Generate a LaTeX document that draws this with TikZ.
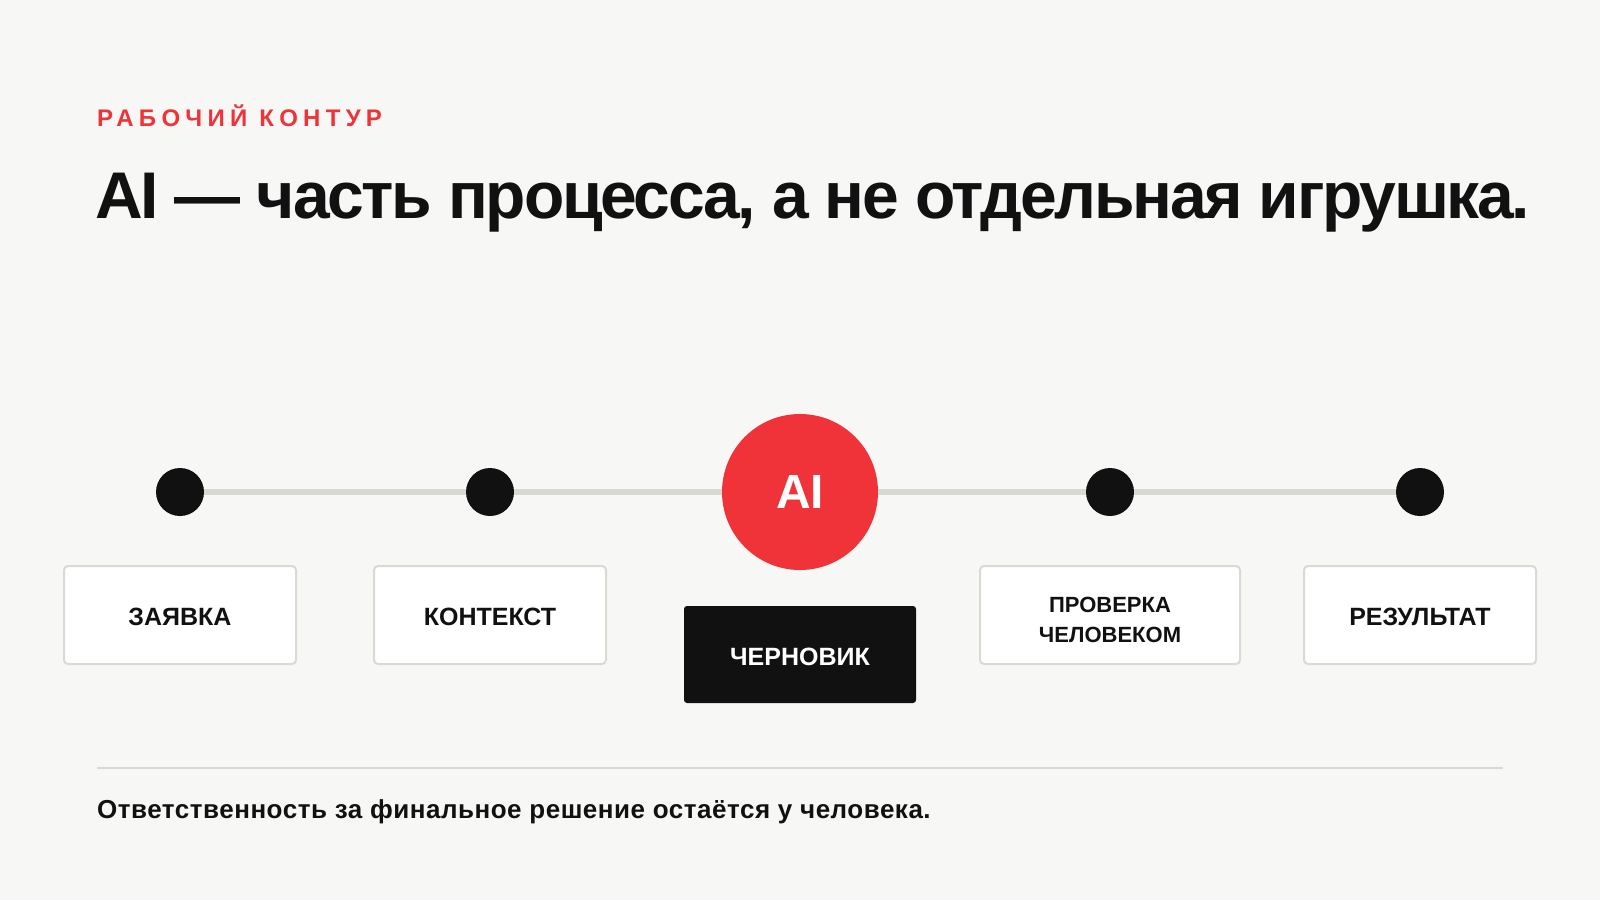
\documentclass[tikz,border=0pt]{standalone}
\usepackage{fontspec}
\setmainfont{Liberation Sans}
\definecolor{bg}{HTML}{F7F7F5}
\definecolor{accent}{HTML}{EF3338}
\definecolor{ink}{HTML}{111111}
\definecolor{trackc}{HTML}{D9D9D2}
\definecolor{boxline}{HTML}{DADAD4}
\begin{document}
\begin{tikzpicture}[x=1pt,y=-1pt,
  dot/.style={circle,fill=ink,minimum size=48pt,inner sep=0},
  aicircle/.style={circle,fill=accent,minimum size=156pt,inner sep=0,text=white,font=\fontsize{48}{48}\selectfont\bfseries},
  track/.style={draw=trackc,line width=6pt},
  stepbox/.style={draw=boxline,line width=2pt,fill=white,rounded corners=4pt,minimum width=232pt,minimum height=98pt,inner sep=0,text=ink,align=center,font=\fontsize{25}{30}\selectfont\bfseries},
  steptext/.style={text=ink,align=center,inner sep=0,font=\fontsize{25}{30}\selectfont\bfseries},
  twoline/.style={text=ink,align=center,inner sep=0,font=\fontsize{22}{30}\selectfont\bfseries},
  darkbox/.style={fill=ink,rounded corners=3pt,minimum width=232pt,minimum height=97pt,inner sep=0},
  rulec/.style={draw=trackc,line width=2pt}
]
\fill[bg] (0,0) rectangle (1600,900);
\useasboundingbox (0,0) rectangle (1600,900);

\node[anchor=base west,inner sep=0,text=accent,font=\fontsize{24}{24}\selectfont\bfseries] (kicker) at (97,126) {\addfontfeature{LetterSpace=22}РАБОЧИЙ КОНТУР};
\node[anchor=base west,inner sep=0,text=ink,font=\fontsize{66}{66}\selectfont\bfseries] (title) at (95,218) {\addfontfeature{LetterSpace=-3.5}AI — часть процесса, а не отдельная игрушка.};

\node[dot] (d1) at (180,492) {};
\node[dot] (d2) at (490,492) {};
\node[aicircle] (ai) at (800,492) {AI};
\node[dot] (d4) at (1110,492) {};
\node[dot] (d5) at (1420,492) {};
\draw[track] (d1) -- (d2);
\draw[track] (d2) -- (ai);
\draw[track] (ai) -- (d4);
\draw[track] (d4) -- (d5);

\node[stepbox] (b1) at (180,615) {};
\node[steptext] (b1t) at ([yshift=-2pt]b1.center) {ЗАЯВКА};
\node[stepbox] (b2) at (490,615) {};
\node[steptext] (b2t) at ([yshift=-2pt]b2.center) {КОНТЕКСТ};
\node[darkbox] (b3) at (800,654.5) {};
\node[steptext,text=white] (b3t) at ([yshift=-2pt]b3.center) {ЧЕРНОВИК};
\node[stepbox,minimum width=260pt] (b4) at (1110,615) {};
\node[twoline] (b4t) at ([yshift=-5pt]b4.center) {ПРОВЕРКА\\ЧЕЛОВЕКОМ};
\node[stepbox] (b5) at (1420,615) {};
\node[steptext] (b5t) at ([yshift=-2pt]b5.center) {РЕЗУЛЬТАТ};

\coordinate (r1) at (97,768);
\coordinate (r2) at (1503,768);
\draw[rulec] (r1) -- (r2);
\node[anchor=base west,inner sep=0,text=ink,font=\fontsize{26}{26}\selectfont\bfseries] (foot) at (97,818) {\addfontfeature{LetterSpace=2}Ответственность за финальное решение остаётся у человека.};
\end{tikzpicture}
\end{document}
